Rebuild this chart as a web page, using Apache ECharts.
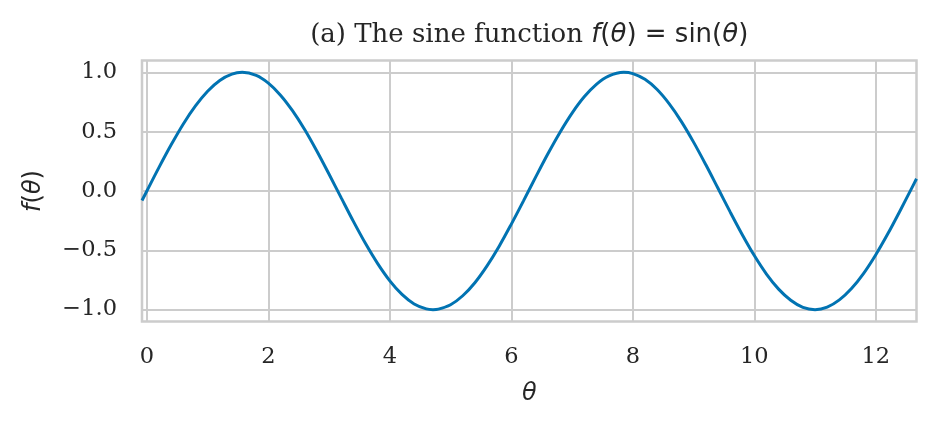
<!DOCTYPE html>
<html>
<head>
<meta charset="utf-8">
<script src="https://cdn.jsdelivr.net/npm/echarts@6/dist/echarts.min.js"></script>
<style>html,body{margin:0;padding:0;background:#fff}#c{width:936px;height:426px}</style>
</head>
<body>
<div id="c"></div>
<script>
// θ values and f(θ) values
var thetaValues = [-0.08, 0, 0.2, 0.4, 0.6, 0.8, 1.0, 1.2, 1.4, 1.57, 1.8, 2.0, 2.2, 2.4, 2.6, 2.8, 3.0,
  3.2, 3.4, 3.6, 3.8, 4.0, 4.2, 4.4, 4.6, 4.71, 4.8, 5.0, 5.2, 5.4, 5.6, 5.8, 6.0, 6.2, 6.4, 6.6, 6.8, 7.0,
  7.2, 7.4, 7.6, 7.85, 8.0, 8.2, 8.4, 8.6, 8.8, 9.0, 9.2, 9.4, 9.6, 9.8, 10.0, 10.2, 10.4, 10.6, 10.8,
  11.0, 11.2, 11.4, 11.6, 11.8, 12.0, 12.2, 12.4, 12.6, 12.67];
var fValues = [-0.080, 0.000, 0.199, 0.389, 0.565, 0.717, 0.841, 0.932, 0.985, 1.000, 0.974, 0.909,
  0.808, 0.675, 0.516, 0.335, 0.141, -0.058, -0.256, -0.443, -0.612, -0.757, -0.872, -0.952, -0.994,
  -1.000, -0.996, -0.959, -0.883, -0.773, -0.631, -0.465, -0.279, -0.083, 0.117, 0.312, 0.494, 0.657,
  0.794, 0.899, 0.968, 1.000, 0.989, 0.941, 0.855, 0.734, 0.585, 0.412, 0.223, 0.025, -0.174, -0.366,
  -0.544, -0.700, -0.827, -0.921, -0.981, -1.000, -0.979, -0.918, -0.822, -0.694, -0.537, -0.359,
  -0.166, 0.033, 0.103];
var xTicks = [0, 2, 4, 6, 8, 10, 12];
var yTicks = [-1.0, -0.5, 0.0, 0.5, 1.0];
var xRange = [-0.08, 12.67];
var yRange = [-1.1, 1.1];

var points = thetaValues.map(function (t, i) { return [t, fValues[i]]; });
var TXT = '#262626', GRID = '#cccccc';
var serif = 'DejaVu Serif', sans = 'DejaVu Sans';
var mathRich = {
  i: { fontFamily: sans, fontStyle: 'italic', fontSize: 24, fill: TXT, color: TXT },
  m: { fontFamily: sans, fontSize: 24, fill: TXT, color: TXT }
};
var titleRich = {
  i: { fontFamily: sans, fontStyle: 'italic', fontSize: 26, fill: TXT },
  m: { fontFamily: sans, fontSize: 26, fill: TXT }
};

var W = 936, gridLeft = 142, gridRight = 19.5;
var plotCenter = gridLeft + (W - gridLeft - gridRight) / 2;

var chart = echarts.init(document.getElementById('c'), null, { renderer: 'canvas' });
chart.setOption({
  animation: false,
  backgroundColor: '#ffffff',
  graphic: [{
    type: 'text', x: plotCenter, y: 22,
    style: {
      text: '(a) The sine function {i|f}{m|(}{i|θ}{m|) = sin(}{i|θ}{m|)}',
      align: 'center', verticalAlign: 'top',
      font: 'normal 26px "DejaVu Serif"', fill: TXT,
      rich: titleRich
    }
  }],
  grid: {
    left: gridLeft, right: gridRight, top: 60.5, bottom: 104.5,
    show: true, borderColor: GRID, borderWidth: 2.5, backgroundColor: 'transparent'
  },
  xAxis: {
    type: 'value', min: xRange[0], max: xRange[1],
    name: '{i|θ}', nameLocation: 'middle', nameGap: 60,
    nameTextStyle: { rich: mathRich },
    axisLine: { show: false },
    axisTick: { show: false, customValues: xTicks },
    axisLabel: { customValues: xTicks, margin: 24, fontFamily: serif, fontSize: 22.5, color: TXT,
      formatter: function (v) { return String(v); } },
    splitLine: { show: true, lineStyle: { color: GRID, width: 2 } }
  },
  yAxis: {
    type: 'value', min: yRange[0], max: yRange[1],
    name: '{i|f}{m|(}{i|θ}{m|)}', nameLocation: 'middle', nameGap: 96, nameRotate: 90,
    nameTextStyle: { rich: mathRich },
    axisLine: { show: false },
    axisTick: { show: false, customValues: yTicks },
    axisLabel: { customValues: yTicks, margin: 25, fontFamily: serif, fontSize: 22.5, color: TXT,
      formatter: function (v) { return (v < 0 ? '\u2212' : '') + Math.abs(v).toFixed(1); } },
    splitLine: { show: true, lineStyle: { color: GRID, width: 2 } }
  },
  series: [{
    type: 'line', data: points, showSymbol: false, smooth: 0.35,
    lineStyle: { color: '#0173b2', width: 3 }, clip: true
  }]
});
</script>
</body>
</html>
